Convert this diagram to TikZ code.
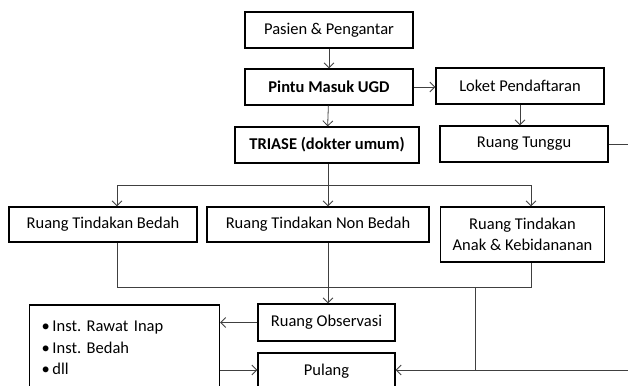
\documentclass[tikz,border=0pt]{standalone}
\usepackage{fontspec}
\setmainfont{Carlito}
\usetikzlibrary{arrows.meta, positioning}
\frenchspacing

\tikzset{
  box/.style={draw=black, line width=1.3pt, minimum height=36pt, inner sep=2pt, align=center},
  link/.style={draw=black!75, line width=0.8pt},
  arr/.style={link, -{Straight Barb[length=5pt, width=10pt]}},
}

\begin{document}
\begin{tikzpicture}[x=1pt, y=-1pt, font=\fontsize{16.5}{21}\selectfont]

  % Page frame.
  \useasboundingbox (0,0) rectangle (628,385);
  \clip (0,0) rectangle (628,385);

  % Entry column.
  \node[box, minimum width=168pt] (pasien) at (329,30) {Pasien \& Pengantar};
  \node[box, minimum width=168pt, font=\fontsize{16.5}{21}\selectfont\bfseries]
    (pintu) at (329,87) {Pintu Masuk UGD};
  \node[box, minimum width=184pt, font=\fontsize{16.5}{21}\selectfont\bfseries]
    (triase) at (327,145) {TRIASE (dokter umum)};

  % Registration column.
  \node[box, minimum width=168pt] (loket) at (520,86) {Loket Pendaftaran};
  \node[box, minimum width=168pt] (tunggu) at (524,144) {Ruang Tunggu};

  % Treatment rooms.
  \node[box, minimum width=188pt, minimum height=35pt] (bedah) at (103,224.5)
    {Ruang Tindakan Bedah};
  \node[box, minimum width=222pt, minimum height=35pt] (nonbedah) at (318,224.5)
    {Ruang Tindakan Non Bedah};
  \node[box, minimum width=164pt, minimum height=55pt] (anak) at (522.5,234.5)
    {Ruang Tindakan\\Anak \& Kebidananan};

  % Exit row.
  \node[box, minimum width=137pt, minimum height=37pt] (obs) at (326.5,322.5)
    {Ruang Observasi};
  \node[box, minimum width=137pt] (pulang) at (326.5,371) {Pulang};
  \node[box, text width=166pt, inner xsep=12pt, minimum height=86pt, align=left,
    font=\fontsize{16.5}{21.5}\selectfont] (inst) at (124.5,348)
    {\textbullet\,Inst. Rawat Inap\\\textbullet\,Inst. Bedah\\\textbullet\,dll};

  % Branch points.
  \coordinate (colL) at (117,185);
  \coordinate (colM) at (328,185);
  \coordinate (colR) at (531,185);
  \coordinate (merge) at (328,287);
  \coordinate (drop) at (475,287);
  \coordinate (tungguR) at (628,144);
  \coordinate (pulangR) at (628,370);

  % Connectors.
  \draw[arr] (pasien) -- (pintu);
  \draw[arr] (pintu) -- (loket.west |- pintu.east);
  \draw[arr] (pintu) -- (triase);
  \draw[arr] (loket.south) -- (loket.south |- tunggu.north);
  \draw[link] (tunggu.east) -- (tungguR);

  \draw[link] (triase.south -| colM) -- (colM);
  \draw[link] (colL) -- (colR);
  \draw[arr] (colL) -- (colL |- bedah.north);
  \draw[arr] (colM) -- (colM |- nonbedah.north);
  \draw[arr] (colR) -- (colR |- anak.north);

  \draw[link] (colL |- bedah.south) -- (colL |- merge) -- (colR |- merge)
    -- (colR |- anak.south);
  \draw[arr] (colM |- nonbedah.south) -- (colM |- obs.north);
  \draw[link] (drop) -- (drop |- pulangR);
  \draw[arr] (pulangR) -- (pulang.east |- pulangR);

  \draw[arr] (obs.west) -- (obs.west -| inst.east);
  \draw[arr] (inst.east |- pulangR) -- (pulang.west |- pulangR);

\end{tikzpicture}
\end{document}
